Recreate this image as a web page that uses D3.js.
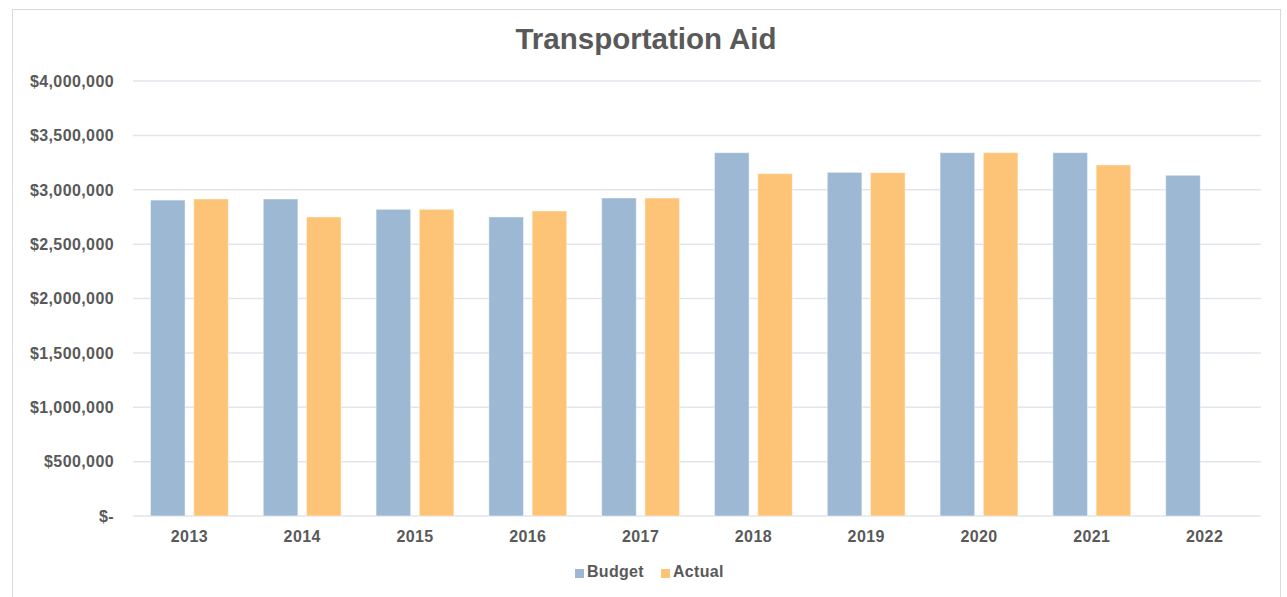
<!DOCTYPE html>
<html>
<head>
<meta charset="utf-8">
<script src="https://cdn.jsdelivr.net/npm/d3@7"></script>
<style>
  body { margin: 0; background: #fff; }
  svg text { font-family: "Liberation Sans", Arial, sans-serif; font-weight: bold; fill: #595959; }
</style>
</head>
<body>
<svg id="chart" width="1287" height="597"></svg>
<script>
// data
var years = ["2013","2014","2015","2016","2017","2018","2019","2020","2021","2022"];
var seriesNames = ["Budget","Actual"];
var budget = [2905000, 2915000, 2820000, 2750000, 2924000, 3341000, 3160000, 3341000, 3341000, 3133000];
var actual = [2915000, 2750000, 2820000, 2805000, 2924000, 3148000, 3157000, 3341000, 3228000, null];
var yTicks = [0, 500000, 1000000, 1500000, 2000000, 2500000, 3000000, 3500000, 4000000];

var colors = {Budget: "#9cb8d3", Actual: "#fdc478"};

var svg = d3.select("#chart");

// plot box (plotTop, not top: window.top is taken)
var plotLeft = 133, plotRight = 1261, plotTop = 81, plotBottom = 516;

// chart outline
svg.append("rect")
  .attr("x", 12.5).attr("y", 9.5)
  .attr("width", 1268).attr("height", 600)
  .attr("fill", "#fff").attr("stroke", "#d9d9d9").attr("stroke-width", 1);

var x0 = d3.scaleBand().domain(years).range([plotLeft, plotRight])
  .paddingInner(0.31).paddingOuter(0.155);
var x1 = d3.scaleBand().domain(seriesNames).range([0, x0.bandwidth()])
  .paddingInner(0.2);
var y = d3.scaleLinear().domain([0, 4000000]).range([plotBottom, plotTop]);

// gridlines
svg.append("g").selectAll("line").data(yTicks).enter().append("line")
  .attr("x1", plotLeft).attr("x2", plotRight)
  .attr("y1", function(d){ return y(d); })
  .attr("y2", function(d){ return y(d); })
  .attr("stroke", "#e1e5ec").attr("stroke-width", 1.5);

// y labels
function fmt(d){ return d === 0 ? "$-" : "$" + d3.format(",")(d); }
svg.append("g").selectAll("text").data(yTicks).enter().append("text")
  .attr("x", 114)
  .attr("y", function(d){ return y(d); })
  .attr("dy", "0.36em")
  .attr("text-anchor", "end")
  .style("font-size", "16px")
  .style("letter-spacing", "0.4px")
  .text(fmt);

// bars
var rows = years.map(function(yr, i){
  return {year: yr, values: [{key: "Budget", v: budget[i]}, {key: "Actual", v: actual[i]}]};
});
var groups = svg.append("g").selectAll("g").data(rows).enter().append("g")
  .attr("transform", function(d){ return "translate(" + x0(d.year) + ",0)"; });
groups.selectAll("rect")
  .data(function(d){ return d.values.filter(function(e){ return e.v != null; }); })
  .enter().append("rect")
  .attr("x", function(d){ return x1(d.key); })
  .attr("y", function(d){ return y(d.v); })
  .attr("width", x1.bandwidth())
  .attr("height", function(d){ return plotBottom - y(d.v); })
  .attr("fill", function(d){ return colors[d.key]; })
  .attr("stroke", "#ffffff").attr("stroke-opacity", 0.45).attr("stroke-width", 1);

// x labels
svg.append("g").selectAll("text").data(years).enter().append("text")
  .attr("x", function(d){ return x0(d) + x0.bandwidth() / 2; })
  .attr("y", 542)
  .attr("text-anchor", "middle")
  .style("font-size", "16px")
  .style("letter-spacing", "0.4px")
  .text(function(d){ return d; });

// title
svg.append("text")
  .attr("x", 646).attr("y", 49)
  .attr("text-anchor", "middle")
  .style("font-size", "29.5px")
  .text("Transportation Aid");

// legend
var legendX = [575, 661];
var legend = svg.append("g").selectAll("g").data(seriesNames).enter().append("g")
  .attr("transform", function(d, i){ return "translate(" + legendX[i] + ",0)"; });
legend.append("rect")
  .attr("x", 0).attr("y", 569)
  .attr("width", 9).attr("height", 9)
  .attr("fill", function(d){ return colors[d]; });
legend.append("text")
  .attr("x", 12).attr("y", 577)
  .style("font-size", "16px")
  .style("letter-spacing", "0.3px")
  .text(function(d){ return d; });
</script>
</body>
</html>
